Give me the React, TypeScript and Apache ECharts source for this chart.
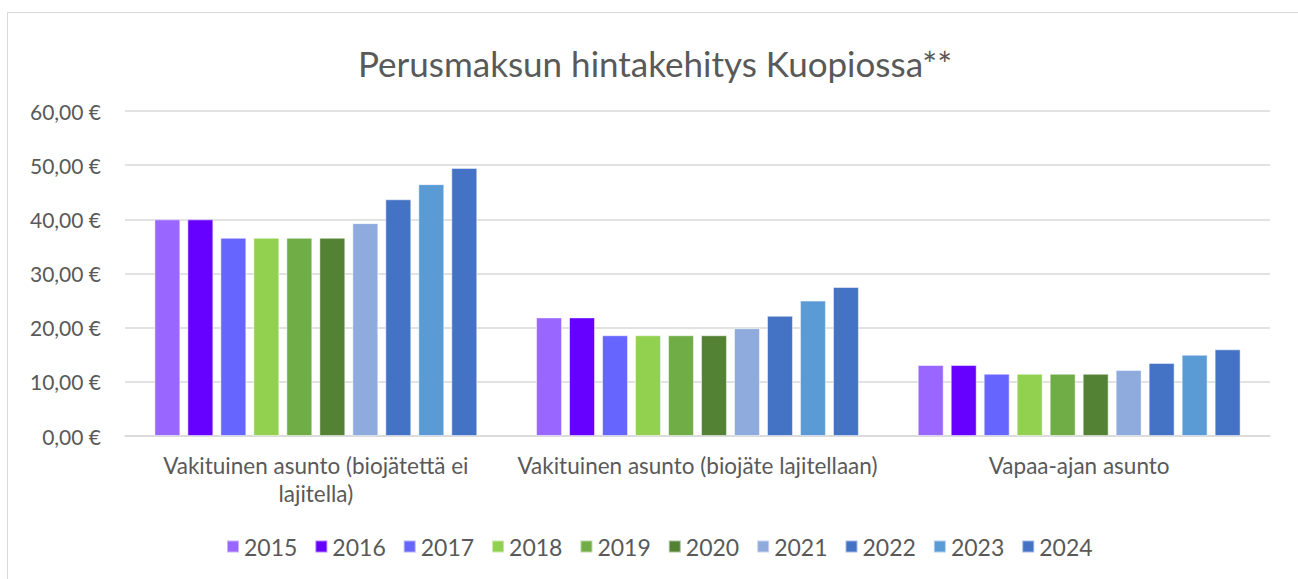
import React, { useEffect, useRef } from "react";
import * as echarts from "echarts";

const categories = [
  "Vakituinen asunto (biojätettä ei\nlajitella)",
  "Vakituinen asunto (biojäte lajitellaan)",
  "Vapaa-ajan asunto",
];
const years = ["2015", "2016", "2017", "2018", "2019", "2020", "2021", "2022", "2023", "2024"];
const colors = ["#9966FF", "#6600FF", "#6666FF", "#92D050", "#70AD47", "#548235", "#8FAADC", "#4472C4", "#5B9BD5", "#4472C4"];
// values per year: [cat1, cat2, cat3]
const v2015 = [40.0, 21.9, 13.1];
const v2016 = [40.0, 21.9, 13.1];
const v2017 = [36.6, 18.6, 11.5];
const v2018 = [36.6, 18.6, 11.5];
const v2019 = [36.6, 18.6, 11.5];
const v2020 = [36.6, 18.6, 11.5];
const v2021 = [39.3, 19.9, 12.2];
const v2022 = [43.7, 22.2, 13.5];
const v2023 = [46.5, 25.0, 15.0];
const v2024 = [49.5, 27.5, 16.0];
const seriesValues = [v2015, v2016, v2017, v2018, v2019, v2020, v2021, v2022, v2023, v2024];

const FONT = "Lato, 'Open Sans', sans-serif";
const TXT = "#595959";

export default function App() {
  const ref = useRef<HTMLDivElement>(null);
  useEffect(() => {
    if (!ref.current) return;
    const chart = echarts.init(ref.current, null, { renderer: "svg" });
    chart.setOption({
      animation: false,
      backgroundColor: "#ffffff",
      textStyle: { fontFamily: FONT },
      title: {
        text: "Perusmaksun hintakehitys Kuopiossa**",
        left: 353,
        top: 40,
        textStyle: { fontFamily: FONT, fontSize: 35, fontWeight: "normal", color: TXT },
      },
      graphic: [
        {
          type: "rect",
          shape: { x: 7.5, y: 12.5, width: 1400, height: 700 },
          style: { fill: "none", stroke: "#d9d9d9", lineWidth: 1 },
          silent: true,
          z: -1,
        },
      ],
      legend: {
        bottom: 16,
        left: 221,
        itemWidth: 12,
        itemHeight: 12,
        itemGap: 17,
        icon: "rect",
        textStyle: { fontFamily: FONT, fontSize: 23, color: TXT },
        data: years,
      },
      grid: { left: 125, right: 28, top: 111, bottom: 143, containLabel: false },
      xAxis: {
        type: "category",
        data: categories,
        axisLine: { lineStyle: { color: "#d9d9d9", width: 1.5 } },
        axisTick: { show: false },
        axisLabel: {
          fontFamily: FONT,
          fontSize: 22.5,
          color: TXT,
          margin: 15,
          lineHeight: 28,
          interval: 0,
          align: "center",
        },
      },
      yAxis: {
        type: "value",
        min: 0,
        max: 60,
        interval: 10,
        axisLine: { show: false },
        axisTick: { show: false },
        splitLine: { lineStyle: { color: "#d9d9d9", width: 1.5 } },
        axisLabel: {
          fontFamily: FONT,
          fontSize: 21,
          color: TXT,
          margin: 24,
          formatter: (v: number) => v.toFixed(2).replace(".", ",") + " €",
        },
      },
      series: years.map((y, i) => ({
        name: y,
        type: "bar",
        data: seriesValues[i],
        barGap: "27%",
        barCategoryGap: "15.4%",
        itemStyle: { color: colors[i], borderColor: "rgba(255,255,255,0.5)", borderWidth: 1 },
      })),
    });
    return () => chart.dispose();
  }, []);
  return (
    <div
      ref={ref}
      style={{ position: "fixed", left: 0, top: 0, width: 1298, height: 579 }}
    />
  );
}
